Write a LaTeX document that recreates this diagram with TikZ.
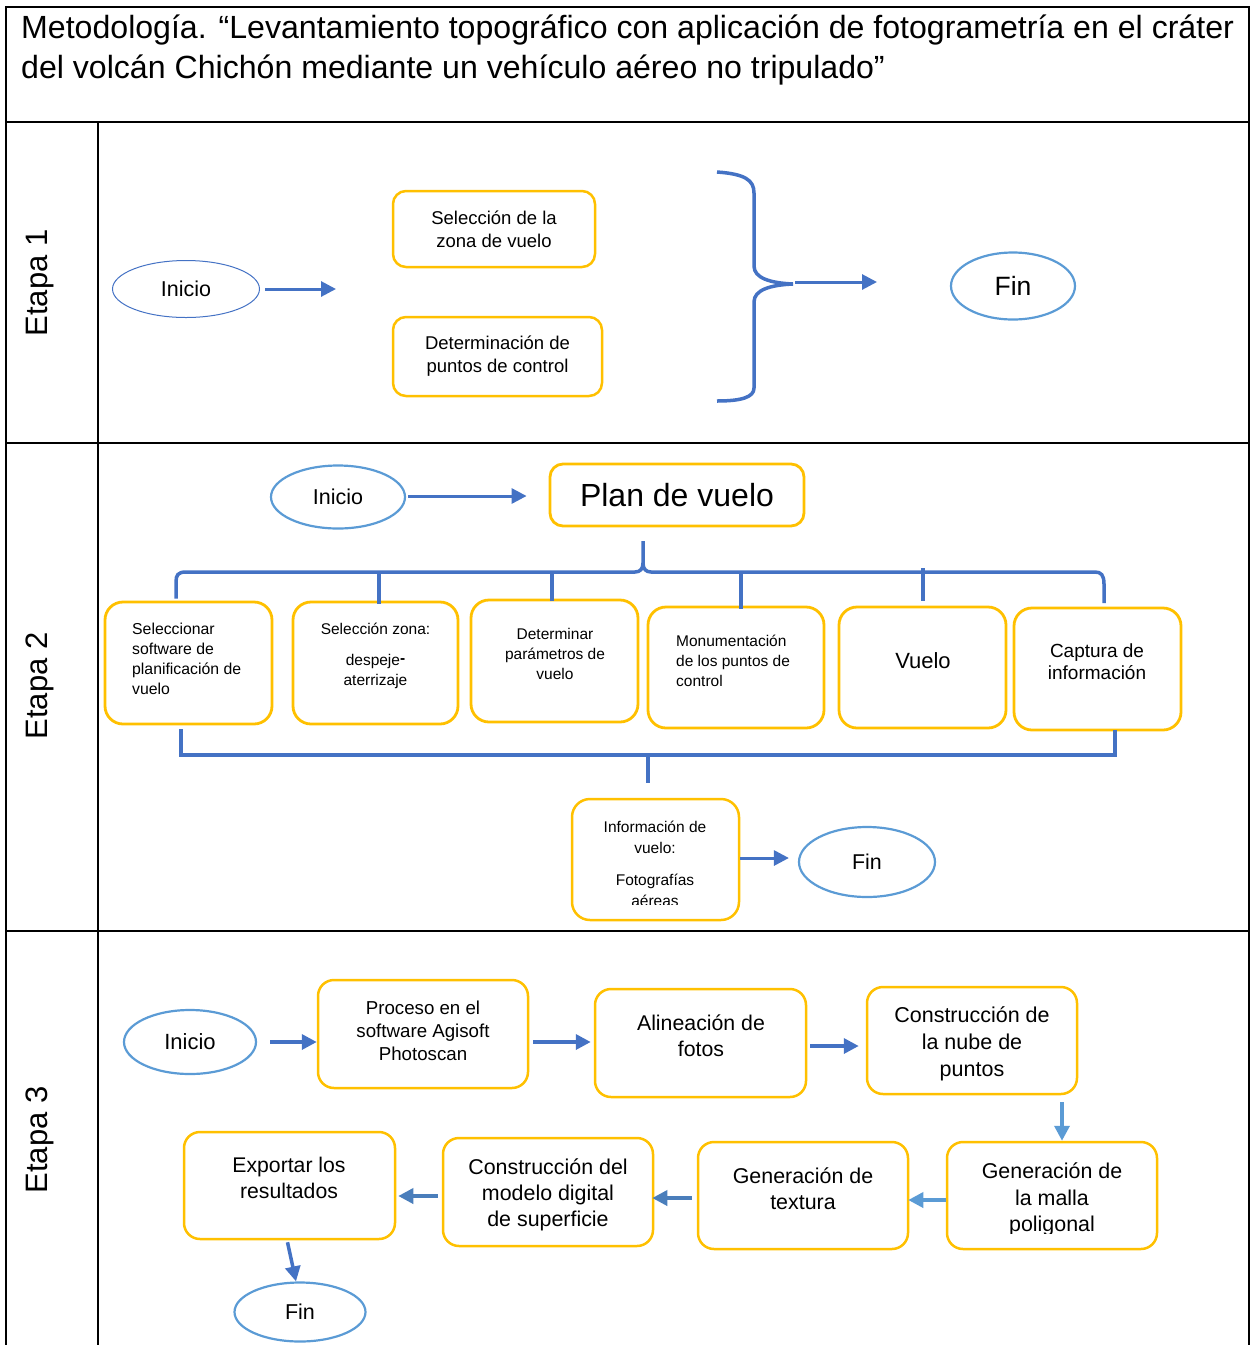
\documentclass[tikz,border=0pt]{standalone}
\usepackage{fontspec}
\setmainfont{Liberation Sans}
\usetikzlibrary{arrows.meta,shapes.geometric,calc}
\definecolor{orng}{HTML}{FFC000}
\definecolor{dblue}{HTML}{4472C4}
\definecolor{lblue}{HTML}{5B9BD5}
\definecolor{sblue}{HTML}{4A7EBB}
\newcommand{\myfs}[2]{\fontsize{#1}{#2}\selectfont}
\begin{document}
\begin{tikzpicture}[x=1pt,y=-1pt,
  tbl/.style={line width=2pt, draw=black},
  ob/.style={draw=orng, line width=2.5pt, inner sep=0pt, align=center},
  ov/.style={ellipse, draw=lblue, line width=2.2pt, inner sep=0pt},
  ar/.style={draw=dblue, line width=3pt, -{Triangle[length=15pt,width=15pt]}},
  arl/.style={ar, draw=lblue},
  ars/.style={ar, draw=sblue},
  brk/.style={draw=dblue, line width=3.5pt},
  txt/.style={inner sep=0pt, align=center}
]
\useasboundingbox (0,0) rectangle (1253,1345);
% table
\draw[tbl] (6,1345) -- (6,7) -- (1249,7) -- (1249,1345);
\draw[tbl] (6,122) -- (1249,122);
\draw[tbl] (6,443) -- (1249,443);
\draw[tbl] (6,931) -- (1249,931);
\draw[tbl] (98,122) -- (98,1345);
\node[anchor=north west, align=left, inner sep=0pt, font=\myfs{32.1}{40}] (title) at (21,15)
 {Metodología. “Levantamiento topográfico con aplicación de fotogrametría en el cráter\\del volcán Chichón mediante un vehículo aéreo no tripulado”};
\node[rotate=90, inner sep=0pt, font=\myfs{31}{31}] (e1) at (40,283) {Etapa 1};
\node[rotate=90, inner sep=0pt, font=\myfs{31}{31}] (e2) at (40,686) {Etapa 2};
\node[rotate=90, inner sep=0pt, font=\myfs{31}{31}] (e3) at (40,1140) {Etapa 3};

% ---------------- Etapa 1
\node[ov, draw=dblue, line width=1pt, minimum width=147pt, minimum height=57pt, font=\myfs{21.5}{21.5}] (ini1) at (186,289) {Inicio};
\coordinate (a1end) at (336,289);
\draw[ar] (ini1.east) ++(5,0) -- (a1end);
\node[ob, rounded corners=13pt, minimum width=202pt, minimum height=76pt, font=\myfs{18.5}{23}] (s1) at (494,229) {Selección de la\\zona de vuelo};
\node[ob, rounded corners=13pt, minimum width=209pt, minimum height=79pt, font=\myfs{18.5}{23}] (s2) at (497.5,356.5) {Determinación de\\puntos de control};
\draw[brk] (717,172) .. controls (745,174) and (754,180) .. (754,193) -- (754,266) .. controls (754,278) and (770,283) .. (793,284);
\draw[brk] (793,284) .. controls (770,285) and (754,290) .. (754,302) -- (754,388) .. controls (754,397) and (742,401) .. (717,401);
\coordinate (btip) at (795,282);
\coordinate (b1end) at (877,282);
\draw[ar] (btip) -- (b1end);
\node[ov, minimum width=124pt, minimum height=67pt, font=\myfs{26.5}{26.5}] (fin1) at (1013,286) {Fin};

% ---------------- Etapa 2
\node[ov, minimum width=134pt, minimum height=63pt, font=\myfs{21.5}{21.5}] (ini2) at (338,497) {Inicio};
\node[ob, line width=2.8pt, rounded corners=13pt, minimum width=254pt, minimum height=62pt, font=\myfs{32}{32}] (plan) at (677,495) {Plan de vuelo};
\draw[ar] (ini2.east) ++(2,-1) -- ($(plan.west)+(-22,1)$);

\node[ob, line width=2.8pt, rounded corners=18pt, minimum width=167pt, minimum height=122pt] (b1) at (188.5,663) {};
\node[txt, align=left, anchor=west, font=\myfs{15.8}{20}] (b1t) at (132,659) {Seleccionar\\software de\\planificación de\\vuelo};
\node[ob, line width=2.8pt, rounded corners=18pt, minimum width=165pt, minimum height=122pt] (b2) at (375.5,663) {};
\node[txt, font=\myfs{15.5}{20}] (b2t) at (375.5,656) {Selección zona:\\[11pt]despeje\raisebox{2pt}{\bfseries -}\\aterrizaje};
\node[ob, line width=2.8pt, rounded corners=18pt, minimum width=167pt, minimum height=122pt] (b3) at (554.5,661) {};
\node[txt, font=\myfs{15.5}{20}] (b3t) at (555,654) {Determinar\\parámetros de\\vuelo};
\node[ob, line width=2.8pt, rounded corners=18pt, minimum width=176pt, minimum height=121pt] (b4) at (736,667.5) {};
\node[txt, align=left, anchor=west, font=\myfs{15.5}{20}] (b4t) at (676,661) {Monumentación\\de los puntos de\\control};
\node[ob, line width=2.8pt, rounded corners=18pt, minimum width=167pt, minimum height=121pt] (b5) at (922.5,667.5) {};
\node[txt, font=\myfs{22}{22}] (b5t) at (923,661) {Vuelo};
\node[ob, line width=2.8pt, rounded corners=18pt, minimum width=167pt, minimum height=122pt] (b6) at (1097.5,669) {};
\node[txt, font=\myfs{19}{22}] (b6t) at (1097,662) {Captura de\\información};

% top bracket
\draw[brk] (b1.north -| 176,0) ++(0,-2) -- (176,582) .. controls (176,575) and (178,572) .. (186,572) -- (635,572) .. controls (640,572) and (643,569) .. (643,563) -- (643,541);
\draw[brk] (643,563) .. controls (643,569) and (646,572) .. (651,572) -- (1095,572) .. controls (1101,572) and (1104,575) .. (1104,584) -- (1104,603);
\draw[brk] (b2.north -| 379,0) ++(0,3) -- (379,572);
\draw[brk] (b3.north -| 552,0) ++(0,2) -- (552,572);
\draw[brk] (b4.north -| 741,0) ++(0,3) -- (741,572);
\draw[brk] (b5.north -| 923,0) ++(0,-5) -- (923,568);
% bottom bracket
\draw[brk] (b1.south -| 181,0) ++(0,4) -- (181,755) -- (1115,755) -- (1115,730);
\node[ob, rounded corners=18pt, minimum width=167pt, minimum height=121pt] (info) at (655.5,859.5) {};
\draw[brk] (648,755) -- (648,783);
\begin{scope}
\clip (575,790) rectangle (736,904);
\node[txt, font=\myfs{15.5}{20.5}] (infot) at (655,864) {Información de\\vuelo:\\[12pt]Fotografías\\aéreas};
\end{scope}
\node[ov, minimum width=136pt, minimum height=70pt, font=\myfs{21.4}{21.4}] (fin2) at (867,862) {Fin};
\draw[ar] ($(info.east)+(0,-1.5)$) -- ($(fin2.west)+(-9,-4)$);

% ---------------- Etapa 3
\node[ov, minimum width=132pt, minimum height=64pt, font=\myfs{22}{22}] (ini3) at (190,1042) {Inicio};
\node[ob, rounded corners=16pt, minimum width=210pt, minimum height=108pt] (proc) at (423,1034) {};
\node[txt, font=\myfs{18.7}{23}] (proct) at (423,1031) {Proceso en el\\software Agisoft\\Photoscan};
\node[ob, rounded corners=16pt, minimum width=211pt, minimum height=108pt] (alin) at (700.5,1043) {};
\node[txt, font=\myfs{21.3}{26}] (alint) at (701,1036) {Alineación de\\fotos};
\node[ob, rounded corners=16pt, minimum width=210pt, minimum height=107pt] (nube) at (972,1040.5) {};
\node[txt, font=\myfs{21.5}{27}] (nubet) at (972,1044) {Construcción de\\la nube de\\puntos};
\node[ob, rounded corners=16pt, minimum width=210pt, minimum height=107pt] (malla) at (1052,1195.5) {};
\begin{scope}
\clip (950,1145) rectangle (1154,1233);
\node[txt, font=\myfs{21.4}{26.5}] (mallat) at (1052,1199.5) {Generación de\\la malla\\poligonal};
\end{scope}
\node[ob, rounded corners=16pt, minimum width=210pt, minimum height=107pt] (text) at (803,1195.5) {};
\node[txt, font=\myfs{21.4}{26}] (textt) at (803,1189) {Generación de\\textura};
\node[ob, rounded corners=16pt, minimum width=210pt, minimum height=108pt] (mod) at (548,1192) {};
\node[txt, font=\myfs{21.4}{26}] (modt) at (548,1195) {Construcción del\\modelo digital\\de superficie};
\node[ob, rounded corners=16pt, minimum width=211pt, minimum height=107pt] (exp) at (289.5,1185.5) {};
\node[txt, font=\myfs{21.2}{26}] (expt) at (289,1177.5) {Exportar los\\resultados};
\node[ov, minimum width=131pt, minimum height=59pt, font=\myfs{21.5}{21.5}] (fin3) at (300,1312) {Fin};

\draw[ar, line width=3.5pt] ($(ini3.east)+(13,0)$) -- (proc.west |- 0,1042);
\draw[ar, line width=3.5pt] ($(proc.east)+(4,8)$) -- ($(alin.west)+(-3,-1)$);
\draw[ar, line width=3.5pt] ($(alin.east)+(3,3)$) -- ($(nube.west)+(-7,5.5)$);
\draw[arl, line width=3.5pt] ($(nube.south)+(90,7)$) -- ($(malla.north)+(10,0)$);
\draw[arl, line width=3.5pt] ($(malla.west)+(0,4.5)$) -- ($(text.east)+(-1,4.5)$);
\draw[ars, line width=3.5pt] ($(text.west)+(-5,2.5)$) -- ($(mod.east)+(-2,6)$);
\draw[ars, line width=3.5pt] ($(mod.west)+(-4,4)$) -- ($(exp.east)+(2,10.5)$);
\draw[ar, line width=3.5pt] ($(exp.south)+(-2,2)$) -- ($(fin3.north)+(-4,0)$);
\end{tikzpicture}
\end{document}
